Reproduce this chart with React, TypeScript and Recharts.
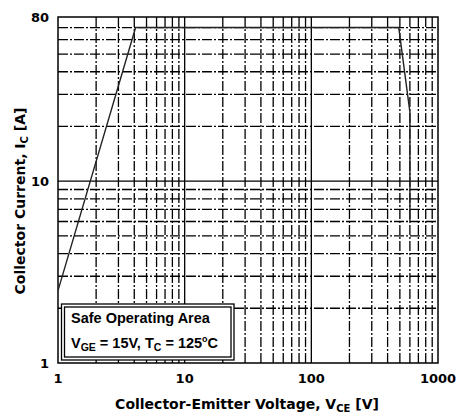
import { LineChart, Line, XAxis, YAxis, ReferenceLine, ReferenceArea } from 'recharts';

// safe operating area boundary
const voltage = [1, 4.1, 490, 600, 600];
const current = [2.5, 70, 70, 24, 6];

const xTicks = [1, 10, 100, 1000];
const yTicks = [1, 10, 80];

const xMajorGrid = [10, 100];
const xMinorGrid = [2, 3, 4, 5, 6, 7, 8, 9, 20, 30, 40, 50, 60, 70, 80, 90, 200, 300, 400, 500, 600, 700, 800, 900];
const yMajorGrid = [10];
const yMinorGrid = [2, 3, 4, 5, 6, 7, 8, 9, 20, 30, 40, 50, 60, 70];

const data = voltage.map((v, i) => ({ v, ic: current[i] }));

const AXIS_FONT = 'DejaVu Sans, sans-serif';
const BOX_FONT = 'Liberation Sans, Arial, sans-serif';
const DASH = '10 2 2 2';

export default function App() {
  const tickStyle = { fontFamily: AXIS_FONT, fontSize: 13, fontWeight: 700, fill: '#000' };
  return (
    <div style={{ position: 'absolute', left: 0, top: 0, width: 459, height: 419, background: '#fff' }}>
      <LineChart width={459} height={419} data={data} margin={{ top: 17, right: 21, bottom: 0, left: 0 }}>
        <XAxis
          dataKey="v"
          type="number"
          scale="log"
          domain={[1, 1000]}
          ticks={xTicks}
          allowDataOverflow
          height={56}
          axisLine={false}
          tickLine={false}
          tickSize={0}
          tickMargin={11}
          tick={tickStyle}
        />
        <YAxis
          type="number"
          scale="log"
          domain={[1, 80]}
          ticks={yTicks}
          allowDataOverflow
          width={58}
          axisLine={false}
          tickLine={false}
          tickSize={0}
          tickMargin={9}
          tick={tickStyle}
        />
        {xMinorGrid.map(x => (
          <ReferenceLine key={'xm' + x} x={x} stroke="#000" strokeWidth={1.3} strokeDasharray={DASH} />
        ))}
        {yMinorGrid.map(y => (
          <ReferenceLine key={'ym' + y} y={y} stroke="#000" strokeWidth={1.3} strokeDasharray={DASH} />
        ))}
        {xMajorGrid.map(x => (
          <ReferenceLine key={'xM' + x} x={x} stroke="#000" strokeWidth={1.3} />
        ))}
        {yMajorGrid.map(y => (
          <ReferenceLine key={'yM' + y} y={y} stroke="#000" strokeWidth={1.3} />
        ))}
        <Line
          dataKey="ic"
          type="linear"
          stroke="#222"
          strokeWidth={1.4}
          dot={false}
          isAnimationActive={false}
        />
        <ReferenceArea x1={1} x2={1000} y1={1} y2={80} fill="none" stroke="#000" strokeWidth={1.5} />
      </LineChart>

      <svg width={459} height={419} style={{ position: 'absolute', left: 0, top: 0, pointerEvents: 'none' }}>
        <text
          transform="translate(25 201) rotate(-90)"
          textAnchor="middle"
          fontFamily={AXIS_FONT}
          fontSize={14}
          fontWeight={700}
          fill="#000"
        >
          Collector Current, I<tspan fontSize={10} dy={3}>C</tspan>
          <tspan dy={-3}> [A]</tspan>
        </text>
        <text x={247} y={409} textAnchor="middle" fontFamily={AXIS_FONT} fontSize={14} fontWeight={700} fill="#000">
          Collector-Emitter Voltage, V<tspan fontSize={10} dy={3}>CE</tspan>
          <tspan dy={-3}> [V]</tspan>
        </text>

        <rect x={61.5} y={304} width={172.5} height={56} fill="#fff" stroke="#000" strokeWidth={1.3} />
        <rect x={64.5} y={307} width={166.5} height={50} fill="none" stroke="#000" strokeWidth={1.3} />
        <text x={71} y={323} fontFamily={BOX_FONT} fontSize={14.5} fontWeight={700} fill="#000">
          Safe Operating Area
        </text>
        <text x={71} y={348} fontFamily={BOX_FONT} fontSize={14.5} fontWeight={700} fill="#000">
          V<tspan fontSize={10.5} dy={3}>GE</tspan>
          <tspan dy={-3}> = 15V, T</tspan>
          <tspan fontSize={10.5} dy={3}>C</tspan>
          <tspan dy={-3}> = 125</tspan>
          <tspan fontSize={9} dy={-6}>o</tspan>
          <tspan dy={6}>C</tspan>
        </text>
      </svg>
    </div>
  );
}
